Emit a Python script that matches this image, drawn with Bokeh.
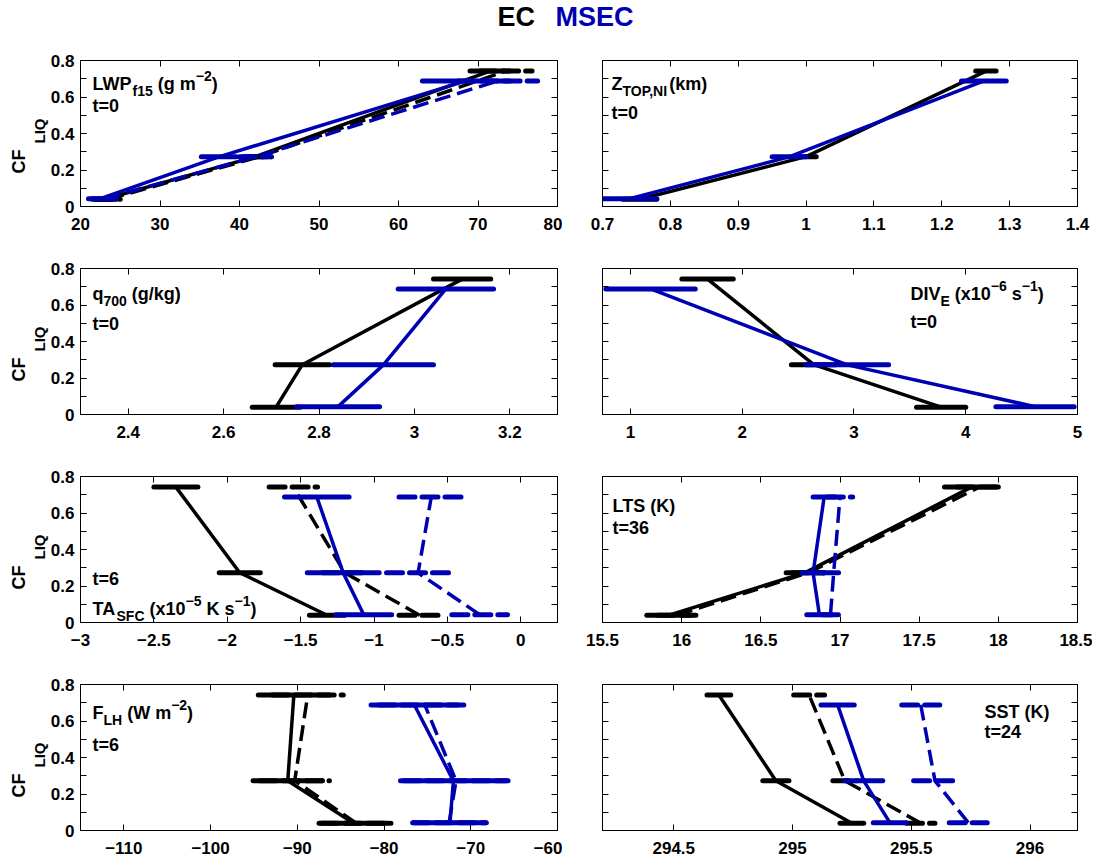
from bokeh.plotting import figure
from bokeh.models import (Range1d, LinearAxis, FixedTicker, SingleIntervalTicker,
                          Label, Title, CustomJSTickFormatter, ColumnDataSource)
from bokeh.layouts import column, row
from bokeh.embed import file_html
from bokeh.resources import INLINE

FONT = "Liberation Sans"
BLACK = "#000000"
BLUE = "#0000b3"

# ---------------- data ----------------
# cloud-fraction levels (y) of the three bins
cf_ec = [0.04, 0.273, 0.742]
cf_msec = [0.043, 0.272, 0.688]
cf_ticks = [0, 0.1, 0.2, 0.3, 0.4, 0.5, 0.6, 0.7, 0.8]

# LWP_f15 (g m-2), t=0
lwp_ec = [23.0, 42.0, 71.5];        lwp_ec_err = [1.5, 1.5, 2.5]
lwp_ec_d = [23.5, 42.5, 73.5];      lwp_ec_d_err = [1.5, 1.5, 3.3]
lwp_ms = [22.5, 37.4, 68.5];        lwp_ms_err = [1.5, 2.2, 5.5]
lwp_ms_d = [23.0, 42.0, 72.5];      lwp_ms_d_err = [1.5, 2.0, 5.0]

# Z_TOP,NI (km), t=0
ztop_ec = [0.755, 1.0, 1.265];      ztop_ec_err = [0.025, 0.015, 0.015]
ztop_ms = [0.74, 0.975, 1.262];     ztop_ms_err = [0.04, 0.025, 0.033]

# q700 (g/kg), t=0
q700_ec = [2.71, 2.765, 3.10];      q700_ec_err = [0.05, 0.057, 0.06]
q700_ms = [2.84, 2.935, 3.066];     q700_ms_err = [0.087, 0.105, 0.10]

# DIV_E (x1e-6 s-1), t=0
div_ec = [3.78, 2.64, 1.69];        div_ec_err = [0.22, 0.2, 0.23]
div_ms = [4.62, 2.94, 1.18];        div_ms_err = [0.35, 0.37, 0.4]

# TA_SFC (x1e-5 K s-1), t=6
ta_ec = [-1.32, -1.915, -2.35];     ta_ec_err = [0.12, 0.14, 0.15]
ta_ec_d = [-0.69, -1.2, -1.55];     ta_ec_d_err = [0.14, 0.15, 0.165]
ta_ms = [-1.07, -1.21, -1.39];      ta_ms_err = [0.19, 0.245, 0.22]
ta_ms_d = [-0.28, -0.70, -0.61];    ta_ms_d_err = [0.19, 0.215, 0.22]

# LTS (K), t=36
lts_ec = [15.92, 16.78, 17.83];     lts_ec_err = [0.14, 0.12, 0.17]
lts_ec_d = [15.97, 16.80, 17.88];   lts_ec_d_err = [0.12, 0.10, 0.14]
lts_ms = [16.87, 16.83, 16.90];     lts_ms_err = [0.08, 0.07, 0.07]
lts_ms_d = [16.94, 16.96, 17.0];    lts_ms_d_err = [0.05, 0.07, 0.08]

# F_LH (W m-2), t=6
flh_ec = [-83.5, -91.1, -90.4];     flh_ec_err = [4.0, 4.0, 4.1]
flh_ec_d = [-83.2, -90.3, -88.8];   flh_ec_d_err = [4.0, 4.0, 4.1]
flh_ms = [-72.4, -72.0, -76.5];     flh_ms_err = [4.2, 6.1, 5.0]
flh_ms_d = [-72.5, -71.7, -75.3];   flh_ms_d_err = [4.2, 6.0, 5.3]

# SST (K), t=24
sst_ec = [295.25, 294.93, 294.69];  sst_ec_err = [0.05, 0.055, 0.05]
sst_ec_d = [295.54, 295.22, 295.07]; sst_ec_d_err = [0.06, 0.05, 0.065]
sst_ms = [295.41, 295.30, 295.19];  sst_ms_err = [0.07, 0.08, 0.07]
sst_ms_d = [295.74, 295.60, 295.54]; sst_ms_d_err = [0.08, 0.09, 0.08]

# axis limits and ticks
xlim_lwp = (20, 80);      xt_lwp = [20, 30, 40, 50, 60, 70, 80]
xlim_ztop = (0.7, 1.4);   xt_ztop = [0.7, 0.8, 0.9, 1.0, 1.1, 1.2, 1.3, 1.4]
xlim_q700 = (2.3, 3.3);   xt_q700 = [2.4, 2.6, 2.8, 3.0, 3.2]
xlim_div = (0.75, 5.0);   xt_div = [1, 2, 3, 4, 5]
xlim_ta = (-3.0, 0.25);   xt_ta = [-3, -2.5, -2, -1.5, -1, -0.5, 0]
xlim_lts = (15.5, 18.5);  xt_lts = [15.5, 16, 16.5, 17, 17.5, 18, 18.5]
xlim_flh = (-115, -60);   xt_flh = [-110, -100, -90, -80, -70, -60]
xlim_sst = (294.2, 296.2); xt_sst = [294.5, 295, 295.5, 296]

# ---------------- styling / layout helpers ----------------
FH = 146
TICK_FS = "17px"
NOTE_FS, SUB_FS = 18, 14
LINE_W, BAR_W = 3.5, 5
DASH = "16 7"

AW = {' ': 278, '(': 333, ')': 333, ',': 278, '-': 333, '.': 278, '/': 278,
      '=': 584, 'A': 722, 'C': 722, 'D': 722, 'E': 667, 'F': 611, 'H': 722,
      'I': 278, 'K': 722, 'L': 611, 'N': 722, 'O': 778, 'P': 667, 'Q': 778,
      'S': 667, 'T': 611, 'V': 667, 'W': 944, 'Z': 611, 'f': 333, 'g': 611,
      'k': 556, 'm': 889, 'q': 611, 's': 556, 't': 333, 'x': 556, '\u2212': 584}


def tw(s, size):
    return sum(AW.get(c, 556) for c in s) / 1000.0 * size


fmt = CustomJSTickFormatter(code="""
    const v = parseFloat(tick.toFixed(6));
    return (v < 0 ? "\\u2212" : "") + Math.abs(v).toString();
""")


def rich(p, x, y, parts):
    cur = x
    for text, kind in parts:
        size = NOTE_FS if kind == "n" else SUB_FS
        dy = {"n": 0, "sub": -7, "sup": 8}[kind]
        lead = len(text) - len(text.lstrip(" "))
        cur += tw(" " * lead, size)
        t = text.lstrip(" ")
        p.add_layout(Label(x=cur, y=y + dy, x_units="screen", y_units="screen",
                           text=t, text_font=FONT, text_font_size=f"{size}px",
                           text_font_style="bold", text_color=BLACK,
                           text_align="left", text_baseline="alphabetic"))
        cur += tw(t, size)


def style_axis(ax):
    ax.axis_line_color = BLACK
    ax.axis_line_width = 1
    ax.major_tick_in = 6
    ax.major_tick_out = 0
    ax.minor_tick_in = 6
    ax.minor_tick_out = 0
    ax.major_tick_line_color = BLACK
    ax.minor_tick_line_color = BLACK
    ax.formatter = fmt
    ax.major_label_text_font = FONT
    ax.major_label_text_font_size = TICK_FS
    ax.major_label_text_font_style = "bold"
    ax.major_label_text_color = BLACK


def ticks_only_axis(ticks):
    # an axis that draws only inward tick marks (no labels)
    ax = LinearAxis(ticker=FixedTicker(ticks=[], minor_ticks=ticks))
    style_axis(ax)
    ax.major_label_standoff = 0
    return ax


def make_panel(xlim, xticks, left, series, bottom=50):
    p = figure(output_backend="svg", toolbar_location=None,
               frame_width=477 if left else 475, frame_height=FH,
               x_range=Range1d(*xlim), y_range=Range1d(0, 0.8),
               min_border_left=80 if left else 40,
               min_border_right=5 if left else 15,
               min_border_top=12, min_border_bottom=bottom,
               x_axis_location="below",
               y_axis_location="left" if left else None)
    p.grid.visible = False
    p.outline_line_color = BLACK
    p.background_fill_color = "white"
    p.border_fill_color = "white"

    p.xaxis.ticker = FixedTicker(ticks=xticks)
    style_axis(p.xaxis[0])
    p.xaxis.major_label_standoff = 11
    if left:
        p.yaxis.ticker = SingleIntervalTicker(interval=0.2, num_minor_ticks=2)
        style_axis(p.yaxis[0])
        p.yaxis.major_label_standoff = 6
    else:
        p.add_layout(ticks_only_axis(cf_ticks), "left")

    p.add_layout(ticks_only_axis(xticks), "above")
    p.add_layout(ticks_only_axis(cf_ticks), "right")

    for xs, err, cf, color, dashed in series:
        dash = DASH if dashed else "solid"
        src = ColumnDataSource(dict(
            x0=[a - e for a, e in zip(xs, err)],
            x1=[a + e for a, e in zip(xs, err)],
            y=cf))
        p.segment(x0="x0", x1="x1", y0="y", y1="y", source=src,
                  line_color=color, line_width=BAR_W, line_cap="round",
                  line_dash=dash)
        p.line(xs, cf, line_color=color, line_width=LINE_W, line_dash=dash,
               line_join="round")

    if left:
        # y label CF_LIQ: subscript strip next to the axis, CF strip outside it
        p.add_layout(Title(text="LIQ", align="left", offset=63, standoff=0,
                           text_font=FONT, text_font_size="15px",
                           text_line_height=0.9,
                           text_font_style="bold", text_color=BLACK), "left")
        p.add_layout(Title(text="CF", align="left", offset=33, standoff=0,
                           text_font=FONT, text_font_size="18px",
                           text_line_height=1.0,
                           text_font_style="bold", text_color=BLACK), "left")
    return p


def S(xs, err, cf, color, dashed=False):
    return (xs, err, cf, color, dashed)


p1 = make_panel(xlim_lwp, xt_lwp, True, [
    S(lwp_ec, lwp_ec_err, cf_ec, BLACK), S(lwp_ec_d, lwp_ec_d_err, cf_ec, BLACK, True),
    S(lwp_ms, lwp_ms_err, cf_msec, BLUE), S(lwp_ms_d, lwp_ms_d_err, cf_msec, BLUE, True)])
rich(p1, 12, 123, [("LWP", "n"), ("f15", "sub"), (" (g m", "n"), ("\u22122", "sup"), (")", "n")])
rich(p1, 12, 101, [("t=0", "n")])

p2 = make_panel(xlim_ztop, xt_ztop, False, [
    S(ztop_ec, ztop_ec_err, cf_ec, BLACK), S(ztop_ms, ztop_ms_err, cf_msec, BLUE)])
rich(p2, 9, 123, [("Z", "n"), ("TOP,NI", "sub"), ("(km)", "n")])
rich(p2, 9, 94, [("t=0", "n")])

p3 = make_panel(xlim_q700, xt_q700, True, [
    S(q700_ec, q700_ec_err, cf_ec, BLACK), S(q700_ms, q700_ms_err, cf_msec, BLUE)])
rich(p3, 12, 121, [("q", "n"), ("700", "sub"), (" (g/kg)", "n")])
rich(p3, 12, 91, [("t=0", "n")])

p4 = make_panel(xlim_div, xt_div, False, [
    S(div_ec, div_ec_err, cf_ec, BLACK), S(div_ms, div_ms_err, cf_msec, BLUE)])
rich(p4, 308, 121, [("DIV", "n"), ("E", "sub"), (" (x10", "n"), ("\u22126", "sup"),
                    (" s", "n"), ("\u22121", "sup"), (")", "n")])
rich(p4, 308, 93, [("t=0", "n")])

p5 = make_panel(xlim_ta, xt_ta, True, [
    S(ta_ec, ta_ec_err, cf_ec, BLACK), S(ta_ec_d, ta_ec_d_err, cf_ec, BLACK, True),
    S(ta_ms, ta_ms_err, cf_msec, BLUE), S(ta_ms_d, ta_ms_d_err, cf_msec, BLUE, True)])
rich(p5, 12, 44, [("t=6", "n")])
rich(p5, 12, 14, [("TA", "n"), ("SFC", "sub"), (" (x10", "n"), ("\u22125", "sup"),
                  (" K s", "n"), ("\u22121", "sup"), (")", "n")])

p6 = make_panel(xlim_lts, xt_lts, False, [
    S(lts_ec, lts_ec_err, cf_ec, BLACK), S(lts_ec_d, lts_ec_d_err, cf_ec, BLACK, True),
    S(lts_ms, lts_ms_err, cf_msec, BLUE), S(lts_ms_d, lts_ms_d_err, cf_msec, BLUE, True)])
rich(p6, 10, 117, [("LTS (K)", "n")])
rich(p6, 10, 95, [("t=36", "n")])

p7 = make_panel(xlim_flh, xt_flh, True, [
    S(flh_ec, flh_ec_err, cf_ec, BLACK), S(flh_ec_d, flh_ec_d_err, cf_ec, BLACK, True),
    S(flh_ms, flh_ms_err, cf_msec, BLUE), S(flh_ms_d, flh_ms_d_err, cf_msec, BLUE, True)],
    bottom=26)
rich(p7, 12, 118, [("F", "n"), ("LH", "sub"), (" (W m", "n"), ("\u22122", "sup"), (")", "n")])
rich(p7, 12, 86, [("t=6", "n")])

p8 = make_panel(xlim_sst, xt_sst, False, [
    S(sst_ec, sst_ec_err, cf_ec, BLACK), S(sst_ec_d, sst_ec_d_err, cf_ec, BLACK, True),
    S(sst_ms, sst_ms_err, cf_msec, BLUE), S(sst_ms_d, sst_ms_d_err, cf_msec, BLUE, True)],
    bottom=26)
rich(p8, 382, 119, [("SST (K)", "n")])
rich(p8, 382, 99, [("t=24", "n")])

# title
tf = figure(output_backend="svg", toolbar_location=None, width=1092, height=48,
            min_border=0, x_range=Range1d(0, 1), y_range=Range1d(0, 1),
            x_axis_location=None, y_axis_location=None)
tf.grid.visible = False
tf.outline_line_color = None
tf.add_layout(Label(x=497, y=32, x_units="screen", y_units="screen", text="EC",
                    text_font=FONT, text_font_size="27px", text_font_style="bold",
                    text_color=BLACK, text_baseline="alphabetic"))
tf.add_layout(Label(x=555, y=32, x_units="screen", y_units="screen", text="MSEC",
                    text_font=FONT, text_font_size="27px", text_font_style="bold",
                    text_color=BLUE, text_baseline="alphabetic"))

layout = column(tf, row(p1, p2), row(p3, p4), row(p5, p6), row(p7, p8))
open("out.html", "w").write(file_html(layout, INLINE))
